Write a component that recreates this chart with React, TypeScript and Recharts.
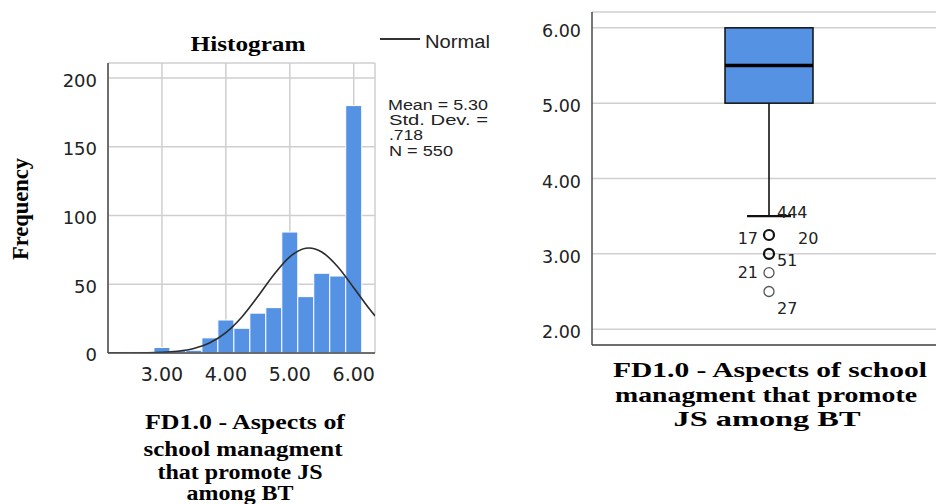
import React from 'react';
import {
  ComposedChart,
  Bar,
  Line,
  Scatter,
  XAxis,
  YAxis,
  CartesianGrid,
} from 'recharts';

// histogram bins (bin centres, width .25) and counts
const binCenters = [2.5, 2.75, 3.0, 3.25, 3.5, 3.75, 4.0, 4.25, 4.5, 4.75, 5.0, 5.25, 5.5, 5.75, 6.0];
const binCounts = [1, 1, 4, 2, 2, 11, 24, 18, 29, 33, 88, 41, 58, 56, 180];

// normal curve
const curveX = [2.16, 2.5, 2.75, 3.0, 3.25, 3.5, 3.75, 4.0, 4.25, 4.5, 4.75, 5.0, 5.25, 5.3, 5.5, 5.75, 6.0, 6.25, 6.333];
const curveY = [0.01, 0.04, 0.14, 0.45, 1.3, 3.3, 7.4, 14.8, 26.2, 41.1, 57.0, 70.0, 76.2, 76.4, 73.5, 62.8, 47.5, 31.8, 27.0];

const freqTicks = [0, 50, 100, 150, 200];
const scoreTicks = [3, 4, 5, 6];

// boxplot summary
const boxName = 'FD1.0';
const boxLow = 3.5;
const boxQ1 = 5.0;
const boxMedian = 5.5;
const boxQ3 = 6.0;
const boxTicks = [2, 3, 4, 5, 6];

const outlierValues = [3.25, 3.0, 2.75, 2.5];
const outlierCounts = [2, 2, 1, 1];

const caseIds = ['444', '17', '20', '51', '21', '27'];
const caseValues = [3.5, 3.25, 3.25, 3.0, 2.75, 2.5];

const histData = binCenters.map((x, i) => ({ x, count: binCounts[i] }));
const curveData = curveX.map((x, i) => ({ x, y: curveY[i] }));
const boxData = [{ name: boxName, low: boxLow, q1: boxQ1, median: boxMedian, q3: boxQ3 }];
const outlierData = outlierValues.map((v, i) => ({ name: boxName, value: v, n: outlierCounts[i] }));
const caseData = caseIds.map((id, i) => ({ name: boxName, value: caseValues[i], id }));

// where each case number sits relative to its circle
const labelPlace: Record<string, { dx: number; dy: number; anchor: 'start' | 'end' }> = {
  '444': { dx: 8, dy: 2, anchor: 'start' },
  '17': { dx: -11, dy: 9, anchor: 'end' },
  '20': { dx: 29, dy: 9, anchor: 'start' },
  '51': { dx: 8, dy: 12, anchor: 'start' },
  '21': { dx: -11, dy: 5, anchor: 'end' },
  '27': { dx: 8, dy: 22, anchor: 'start' },
};

const BLUE = '#5592e3';
const GRID = '#cfcfcf';
const AXIS = '#4a4a4a';
const SANS = '"DejaVu Sans", sans-serif';
const ARIAL = '"Liberation Sans", Arial, sans-serif';
const SERIF = '"Liberation Serif", serif';

const BoxShape = (props: any) => {
  const { x, y, width, height, payload } = props;
  const top = Math.min(y, y + height);
  const h = Math.abs(height);
  const yMed = top + (h * (payload.q3 - payload.median)) / (payload.q3 - payload.q1);
  return (
    <g>
      <rect x={x} y={top} width={width} height={h} fill={BLUE} stroke="#111" strokeWidth={1.5} />
      <line x1={x} x2={x + width} y1={yMed} y2={yMed} stroke="#000" strokeWidth={3.5} />
    </g>
  );
};

const WhiskerShape = (props: any) => {
  const { x, y, width, height } = props;
  const top = Math.min(y, y + height);
  const bottom = Math.max(y, y + height);
  const cx = x + width / 2;
  return (
    <g>
      <line x1={cx} x2={cx} y1={top} y2={bottom} stroke="#111" strokeWidth={1.6} />
      <line x1={x} x2={x + width} y1={bottom} y2={bottom} stroke="#111" strokeWidth={2.2} />
    </g>
  );
};

const OutlierMark = (props: any) => {
  const { cx, cy, payload } = props;
  const bold = payload.n > 1;
  return (
    <circle
      cx={cx}
      cy={cy}
      r={5}
      fill="none"
      stroke={bold ? '#111' : '#555'}
      strokeWidth={bold ? 2.2 : 1.3}
    />
  );
};

const CaseLabel = (props: any) => {
  const { cx, cy, payload } = props;
  const p = labelPlace[payload.id];
  return (
    <text
      x={cx + p.dx}
      y={cy + p.dy}
      textAnchor={p.anchor}
      fontFamily={SANS}
      fontSize={16}
      fill="#222"
    >
      {payload.id}
    </text>
  );
};

const fmt2 = (v: number) => v.toFixed(2);

const App = () => {
  return (
    <div
      style={{
        position: 'absolute',
        left: 0,
        top: 0,
        width: 936,
        height: 504,
        background: '#fff',
        overflow: 'hidden',
      }}
    >
      {/* histogram */}
      <div style={{ position: 'absolute', left: 0, top: 0 }}>
        <ComposedChart
          width={400}
          height={400}
          data={histData}
          margin={{ top: 63, right: 25, bottom: 0, left: 0 }}
          barCategoryGap={0}
          barGap={0}
        >
          <CartesianGrid xAxisId="bins" yAxisId="freq" stroke={GRID} strokeWidth={1.5} />
          <XAxis
            xAxisId="bins"
            dataKey="x"
            type="number"
            domain={[2.156, 6.333]}
            allowDataOverflow
            ticks={scoreTicks}
            interval={0}
            tickFormatter={fmt2}
            height={47}
            tickLine={false}
            tickMargin={9}
            axisLine={{ stroke: AXIS, strokeWidth: 1.5 }}
            tick={{ fill: '#222', fontSize: 19, fontFamily: SANS }}
          />
          <XAxis
            xAxisId="curve"
            dataKey="x"
            type="number"
            domain={[2.156, 6.333]}
            allowDataOverflow
            hide
          />
          <YAxis
            yAxisId="freq"
            domain={[0, 211]}
            allowDataOverflow
            ticks={freqTicks}
            interval={0}
            width={108}
            tickLine={false}
            tickMargin={5}
            axisLine={{ stroke: AXIS, strokeWidth: 1.5 }}
            tick={{ fill: '#222', fontSize: 18, fontFamily: SANS, dy: 2 }}
          />
          <Bar
            xAxisId="bins"
            yAxisId="freq"
            dataKey="count"
            fill={BLUE}
            stroke="#fff"
            strokeWidth={1}
            isAnimationActive={false}
          />
          <Line
            xAxisId="curve"
            yAxisId="freq"
            data={curveData}
            dataKey="y"
            type="monotone"
            stroke="#2b2b2b"
            strokeWidth={1.6}
            dot={false}
            activeDot={false}
            isAnimationActive={false}
          />
        </ComposedChart>
      </div>

      {/* boxplot */}
      <div style={{ position: 'absolute', left: 480, top: 0 }}>
        <ComposedChart
          width={456}
          height={400}
          data={boxData}
          margin={{ top: 12, right: 0, bottom: 0, left: 0 }}
        >
          <CartesianGrid xAxisId="box" yAxisId="score" vertical={false} stroke={GRID} strokeWidth={1.5} />
          <XAxis
            xAxisId="box"
            dataKey="name"
            type="category"
            allowDuplicatedCategory={false}
            padding={{ left: 10, right: 0 }}
            tick={false}
            tickLine={false}
            height={55}
            axisLine={{ stroke: AXIS, strokeWidth: 1.5 }}
          />
          <XAxis
            xAxisId="whisk"
            dataKey="name"
            type="category"
            allowDuplicatedCategory={false}
            padding={{ left: 10, right: 0 }}
            hide
          />
          <YAxis
            yAxisId="score"
            domain={[1.79, 6.21]}
            allowDataOverflow
            ticks={boxTicks}
            interval={0}
            tickFormatter={fmt2}
            width={112}
            tickLine={false}
            tickMargin={5}
            axisLine={{ stroke: AXIS, strokeWidth: 1.5 }}
            tick={{ fill: '#222', fontSize: 17.5, fontFamily: SANS, dy: 3 }}
          />
          <Bar
            xAxisId="whisk"
            yAxisId="score"
            dataKey={(d: any) => [d.low, d.q1]}
            barSize={44}
            shape={<WhiskerShape />}
            isAnimationActive={false}
          />
          <Bar
            xAxisId="box"
            yAxisId="score"
            dataKey={(d: any) => [d.q1, d.q3]}
            barSize={88}
            shape={<BoxShape />}
            isAnimationActive={false}
          />
          <Scatter
            xAxisId="box"
            yAxisId="score"
            data={outlierData}
            dataKey="value"
            shape={<OutlierMark />}
            isAnimationActive={false}
          />
          <Scatter
            xAxisId="box"
            yAxisId="score"
            data={caseData}
            dataKey="value"
            shape={<CaseLabel />}
            isAnimationActive={false}
          />
        </ComposedChart>
      </div>

      {/* titles, legend and stats */}
      <svg
        width={936}
        height={504}
        style={{ position: 'absolute', left: 0, top: 0, pointerEvents: 'none' }}
      >
        <text x={248} y={51} textAnchor="middle" fontFamily={SERIF} fontWeight="bold" fontSize={22} textLength={115} lengthAdjust="spacingAndGlyphs">
          Histogram
        </text>
        <text
          x={28}
          y={209}
          textAnchor="middle"
          transform="rotate(-90 28 209)"
          fontFamily={SERIF}
          fontWeight="bold"
          fontSize={23}
          textLength={102}
          lengthAdjust="spacingAndGlyphs"
        >
          Frequency
        </text>

        <line x1={380} x2={420} y1={39} y2={39} stroke="#333" strokeWidth={2} />
        <text x={425} y={48} fontFamily={ARIAL} fontSize={18} fill="#222" textLength={65} lengthAdjust="spacingAndGlyphs">
          Normal
        </text>

        <g fontFamily={ARIAL} fontSize={14} fill="#222">
          <text x={388} y={110} textLength={100} lengthAdjust="spacingAndGlyphs">Mean = 5.30</text>
          <text x={389} y={125} textLength={99} lengthAdjust="spacingAndGlyphs">Std. Dev. =</text>
          <text x={389} y={140} textLength={34} lengthAdjust="spacingAndGlyphs">.718</text>
          <text x={389} y={156} textLength={64} lengthAdjust="spacingAndGlyphs">N = 550</text>
        </g>

        <g fontFamily={SERIF} fontWeight="bold" fontSize={20} textAnchor="middle">
          <text x={245} y={429} textLength={200} lengthAdjust="spacingAndGlyphs">FD1.0 - Aspects of</text>
          <text x={243} y={456} textLength={199} lengthAdjust="spacingAndGlyphs">school managment</text>
          <text x={240} y={479} textLength={165} lengthAdjust="spacingAndGlyphs">that promote JS</text>
          <text x={240} y={500} textLength={107} lengthAdjust="spacingAndGlyphs">among BT</text>
        </g>

        <g fontFamily={SERIF} fontWeight="bold" fontSize={22} textAnchor="middle">
          <text x={770} y={377} textLength={314} lengthAdjust="spacingAndGlyphs">FD1.0 - Aspects of school</text>
          <text x={766} y={402} textLength={302} lengthAdjust="spacingAndGlyphs">managment that promote</text>
          <text x={767} y={426} textLength={187} lengthAdjust="spacingAndGlyphs">JS among BT</text>
        </g>
      </svg>
    </div>
  );
};

export default App;
